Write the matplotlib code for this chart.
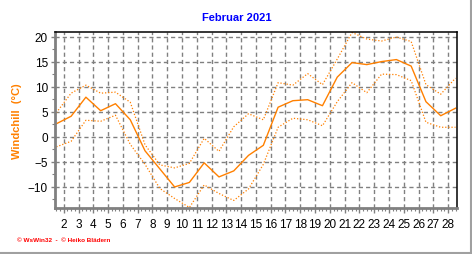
import numpy as np
import matplotlib
matplotlib.use("Agg")
import matplotlib.pyplot as plt
from matplotlib.ticker import MultipleLocator, FixedLocator
from matplotlib.lines import Line2D

# daily windchill values, Februar 2021
days = np.arange(1, 29)
wc_mean = [2.6, 4.1, 7.9, 5.2, 6.6, 3.4, -2.8, -6.4, -10.0, -9.1,
           -5.2, -8.0, -6.8, -3.7, -1.7, 5.9, 7.2, 7.4, 6.2, 11.9,
           14.8, 14.4, 15.0, 15.4, 14.1, 7.0, 4.2, 5.7]
wc_max = [4.8, 8.7, 10.3, 8.7, 8.9, 6.9, -1.6, -5.6, -6.2, -5.3,
          -0.3, -2.9, 2.0, 4.6, 3.4, 10.8, 10.3, 12.6, 10.4, 15.5,
          20.8, 19.5, 19.1, 19.9, 19.0, 10.4, 8.5, 11.7]
wc_min = [-2.0, -0.9, 3.3, 3.1, 4.3, -1.5, -5.5, -10.3, -12.3, -14.1,
          -9.6, -11.3, -12.7, -10.4, -5.5, 1.9, 3.7, 3.4, 2.2, 7.0,
          10.8, 8.8, 12.5, 12.4, 11.2, 2.9, 1.9, 1.9]
xlabels = [str(d) for d in range(2, 29)]

orange = "#FF8000"
grey = "#808080"

plt.rcParams['font.family'] = ['Liberation Sans', 'DejaVu Sans']

fig = plt.figure(figsize=(4.72, 2.55), dpi=100)
ax = fig.add_axes([55/472, 1-209/255, (457-55)/472, (209-33)/255])

# each day plotted in the middle of its slot
x = days + 0.5
ax.plot(x, wc_max, color=orange, lw=0.9, linestyle=(0, (1, 1.5)))
ax.plot(x, wc_min, color=orange, lw=0.9, linestyle=(0, (1, 1.5)))
ax.plot(x, wc_mean, color=orange, lw=1.0)

ax.set_xlim(1.41, 28.6)
ax.set_ylim(-14.2, 20.9)

ax.xaxis.set_major_locator(FixedLocator(range(2, 29)))
ax.set_xticklabels(xlabels)
ax.xaxis.set_minor_locator(MultipleLocator(0.25))
ax.yaxis.set_major_locator(FixedLocator([-10, -5, 0, 5, 10, 15, 20]))
ax.yaxis.set_minor_locator(MultipleLocator(2.5))

ax.grid(True, which="major", color=grey, lw=1.0, linestyle=(0, (3, 2.2)))
ax.set_axisbelow(True)

ax.tick_params(axis="x", which="major", length=3.5, width=1, color=grey,
               labelsize=8.5, pad=4)
ax.tick_params(axis="x", which="minor", length=2, width=0.8, color=grey)
ax.tick_params(axis="y", which="major", length=3, width=1, color=grey,
               labelsize=8.5, pad=2)
ax.tick_params(axis="y", which="minor", length=2, width=0.8, color=grey)

for s in ["left", "bottom"]:
    ax.spines[s].set_color(grey)
    ax.spines[s].set_linewidth(2)
for s in ["top", "right"]:
    ax.spines[s].set_color("black")
    ax.spines[s].set_linewidth(1.1)

ax.set_ylabel("Windchill  (°C)", color=orange, fontsize=8, fontweight="bold")
ax.yaxis.set_label_coords((22-55)/402, 0.5)

fig.text(237/472, 1-18/255, "Februar 2021", color="#0000FF", fontsize=8,
         fontweight="bold", ha="center", va="center")
fig.text(17/472, 1-241/255, "© WsWin32  -  © Heiko Blädern", color="red",
         fontsize=4.6, fontweight="bold", ha="left", va="center")

# outer frame (right / bottom)
fig.add_artist(Line2D([470.5/472, 470.5/472], [1-253.5/255, 1], color="#a0a0a0", lw=1.5))
fig.add_artist(Line2D([0, 470.5/472], [1-253.5/255, 1-253.5/255], color="#a0a0a0", lw=1.5))

fig.savefig("out.png", dpi=100)
